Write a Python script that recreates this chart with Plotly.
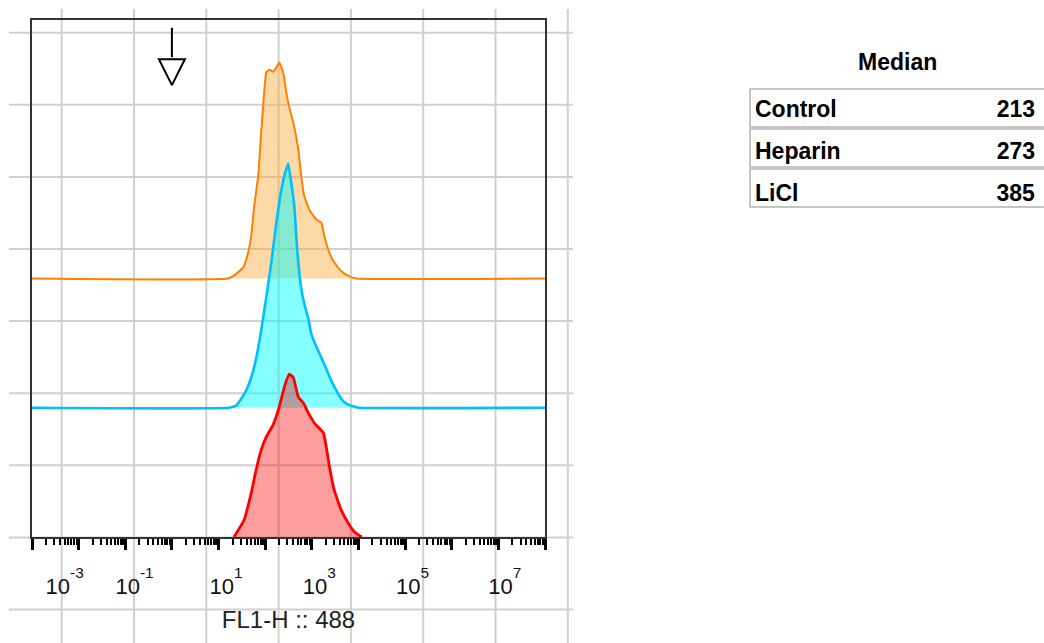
import plotly.graph_objects as go

W, H = 1044, 643
FONT = "Liberation Sans, Arial, Helvetica, sans-serif"

# ---------------- data ----------------
# x values are log10(FL1-H :: 488); heights are in % of the axis height
control_log10 = [1.204, 1.333, 1.527, 1.634, 1.699, 1.763, 1.849, 1.914, 1.978, 2.022,
                 2.086, 2.172, 2.237, 2.301, 2.387, 2.452, 2.516, 2.602, 2.710, 2.774,
                 2.839, 2.946, 3.097, 3.204, 3.269, 3.376, 3.484, 3.634, 3.806, 3.957]
control_h = [0, 0.6, 2.1, 5.0, 8.1, 13.9, 19.7, 28.2, 36.0, 39.8,
             40.4, 40.0, 40.8, 41.8, 39.8, 36.0, 33.1, 30.2, 25.0, 19.7,
             15.9, 13.3, 11.4, 10.8, 8.1, 5.0, 3.1, 1.4, 0.4, 0]

heparin_log10 = [1.226, 1.376, 1.484, 1.591, 1.699, 1.806, 1.914, 2.022, 2.129, 2.237,
                 2.344, 2.430, 2.495, 2.559, 2.624, 2.688, 2.774, 2.839, 2.925, 2.989,
                 3.097, 3.204, 3.312, 3.419, 3.527, 3.634, 3.742, 3.914, 4.022]
heparin_h = [0, 0.4, 1.7, 3.3, 5.8, 9.5, 14.9, 21.3, 27.9, 35.6,
             42.0, 45.5, 47.2, 43.5, 39.1, 30.4, 23.0, 20.1, 17.2, 14.3,
             11.8, 9.7, 7.5, 5.2, 3.3, 1.7, 0.8, 0.2, 0]

licl_log10 = [1.33, 1.548, 1.70, 1.806, 1.914, 2.02, 2.17, 2.30, 2.41, 2.516,
              2.60, 2.71, 2.82, 2.925, 3.05, 3.25, 3.31, 3.38, 3.48, 3.63,
              3.78, 3.91, 4.0, 4.07]
licl_h = [0, 3.3, 8.5, 13.0, 16.8, 19.3, 21.7, 25.1, 29.0, 31.5,
          30.9, 27.1, 25.9, 24.0, 22.1, 20.1, 17.4, 13.5, 9.1, 5.2,
          2.7, 1.0, 0.4, 0]

offsets = {"Control": 50, "Heparin": 25, "LiCl": 0}

sample_names = ["Control", "Heparin", "LiCl"]
sample_medians = [213, 273, 385]

x_range_log10 = [-3, 8]
major_decades = list(range(-3, 9))
minor_digits = [2, 3, 4, 5, 6, 7, 8, 9]
label_exponents = [-3, -1, 1, 3, 5, 7]
label_pos_log10 = [-2.30, -0.80, 1.16, 3.16, 5.16, 7.14]

marker_x = 1.0          # arrow marker at 10^0
marker_tip_y = 87.4
marker_stem = [98.5, 92.8]

# ---------------- styles ----------------
styles = {
    "Control": dict(line="#ff8000", fill="rgba(250,170,60,0.45)", width=2, full=True),
    "Heparin": dict(line="#00bfff", fill="rgba(0,255,255,0.48)", width=2.6, full=True),
    "LiCl": dict(line="#ff0000", fill="rgba(255,0,0,0.38)", width=2.8, full=False),
}

series = {
    "Control": (control_log10, control_h),
    "Heparin": (heparin_log10, heparin_h),
    "LiCl": (licl_log10, licl_h),
}

fig = go.Figure()

xmin, xmax = 10 ** x_range_log10[0], 10 ** x_range_log10[1]
for name in ["Control", "Heparin", "LiCl"]:
    lg, h = series[name]
    off = offsets[name]
    st = styles[name]
    xs = [10 ** v for v in lg]
    ys = [off + v for v in h]
    if st["full"]:
        xs = [xmin] + xs + [xmax]
        ys = [off] + ys + [off]
    fig.add_trace(go.Scatter(
        x=xs, y=ys, mode="lines", name=name,
        line=dict(color=st["line"], width=st["width"], shape="spline", smoothing=0.4),
        fill="toself", fillcolor=st["fill"], showlegend=False, hoverinfo="skip",
        cliponaxis=True,
    ))

# arrow marker (stem + open head)
fig.add_trace(go.Scatter(
    x=[marker_x, marker_x], y=marker_stem, mode="lines", xaxis="x2",
    line=dict(color="black", width=2), showlegend=False, hoverinfo="skip"))
fig.add_trace(go.Scatter(
    x=[marker_x], y=[marker_tip_y], mode="markers", xaxis="x2",
    marker=dict(symbol="arrow-down-open", size=26, color="black",
                line=dict(color="black", width=2)),
    showlegend=False, hoverinfo="skip"))

# table of medians
TABLE_TOP, ROW_H, TABLE_LEFT = 88, 40, 747
fig.add_trace(go.Table(
    domain=dict(x=[TABLE_LEFT / W, 1.0], y=[1 - (TABLE_TOP + 3 * ROW_H + 8) / H, 1 - (TABLE_TOP - 1) / H]),
    columnwidth=[2, 1],
    header=dict(values=["", ""], height=1, line=dict(color="rgba(0,0,0,0)", width=0),
                fill=dict(color="rgba(0,0,0,0)")),
    cells=dict(
        values=[[f"<b>{n}</b>" for n in sample_names],
                [f"<b>{m}</b>" for m in sample_medians]],
        align=["left", "right"], height=ROW_H,
        font=dict(family=FONT, size=23, color="black"),
        line=dict(color="rgba(0,0,0,0)", width=0),
        fill=dict(color="rgba(0,0,0,0)"),
    ),
))

shapes = []
# row boxes of the table (one box per row, no column divider)
for i in range(len(sample_names)):
    shapes.append(dict(type="rect", xref="paper", yref="paper", layer="below",
                       x0=(TABLE_LEFT + 3) / W, x1=1048 / W,
                       y0=1 - (TABLE_TOP + i * ROW_H + 1) / H,
                       y1=1 - (TABLE_TOP + (i + 1) * ROW_H - 1) / H,
                       line=dict(color="#c4c4c4", width=2), fillcolor="white"))

# background page grid
grid_x = [61.7 + i * 72.3 for i in range(8)]
grid_y = [32.7 + i * 72.1 for i in range(9)]
for gx in grid_x:
    shapes.append(dict(type="line", xref="paper", yref="paper", layer="below",
                       x0=gx / W, x1=gx / W, y0=1 - 9 / H, y1=0,
                       line=dict(color="#d0d0d0", width=2)))
for gy in grid_y:
    shapes.append(dict(type="line", xref="paper", yref="paper", layer="below",
                       x0=9 / W, x1=573 / W, y0=1 - gy / H, y1=1 - gy / H,
                       line=dict(color="#d0d0d0", width=2)))

x_dom = [32 / W, 545 / W]
y_dom = [1 - 537 / H, 1 - 20 / H]

fig.update_layout(
    template="none",
    width=W, height=H,
    margin=dict(l=0, r=0, t=0, b=0),
    paper_bgcolor="white", plot_bgcolor="rgba(0,0,0,0)",
    font=dict(family=FONT, color="#111"),
    shapes=shapes,
    xaxis=dict(
        type="log", range=x_range_log10, domain=x_dom,
        showline=True, linewidth=2, linecolor="#333", mirror=True,
        ticks="outside", tickmode="array",
        tickvals=[10 ** d for d in major_decades],
        ticklen=11, tickwidth=3, tickcolor="black",
        showticklabels=False, showgrid=False, zeroline=False, automargin=False,
        minor=dict(ticks="outside", tickmode="array",
                   tickvals=[k * 10 ** d for d in major_decades[:-1] for k in minor_digits],
                   ticklen=6, tickwidth=1.5, tickcolor="black", showgrid=False),
        title=dict(text="FL1-H :: 488", font=dict(family=FONT, size=24, color="#222"),
                   standoff=62),
    ),
    xaxis2=dict(
        type="log", range=x_range_log10, overlaying="x", anchor="y", side="bottom",
        showline=False, showgrid=False, zeroline=False, ticks="",
        tickmode="array", tickvals=[10 ** v for v in label_pos_log10],
        ticktext=[f"10<sup><span style='baseline-shift:7px'>{e}</span></sup>"
                  for e in label_exponents],
        tickfont=dict(family=FONT, size=22, color="#111"),
        ticklabelstandoff=34, automargin=False,
    ),
    yaxis=dict(
        range=[0, 100], domain=y_dom, showline=True, linewidth=2, linecolor="#333",
        mirror=True, ticks="", showticklabels=False, showgrid=False, zeroline=False,
        automargin=False,
    ),
    annotations=[dict(text="<b>Median</b>", xref="paper", yref="paper",
                      x=897 / W, y=1 - 62 / H, xanchor="center", yanchor="middle",
                      showarrow=False,
                      font=dict(family=FONT, size=23, color="black"))],
)

fig.write_html("out.html")
